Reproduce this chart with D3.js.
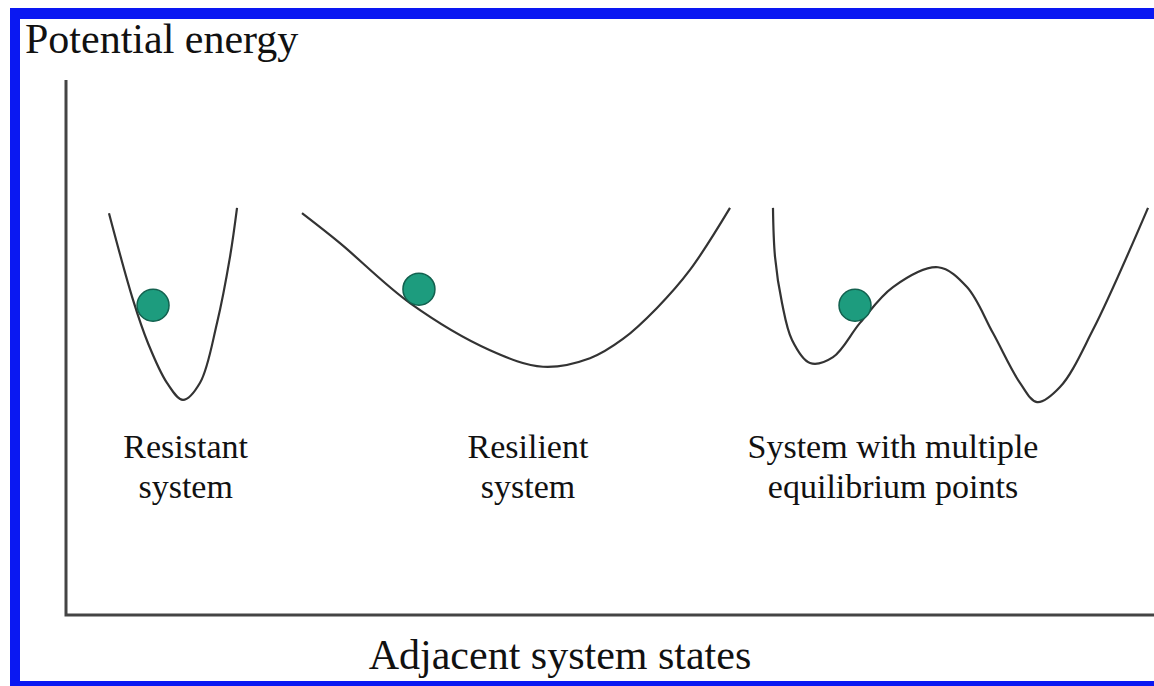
<!DOCTYPE html>
<html>
<head>
<meta charset="utf-8">
<script src="https://cdn.jsdelivr.net/npm/d3@7"></script>
<style>
  html, body { margin: 0; padding: 0; background: #fff; }
  text { font-family: "Liberation Serif", "Times New Roman", serif; fill: #111; }
</style>
</head>
<body>
<div id="chart"></div>
<script>
// landscapes (state 0-100, energy 0-100)
var resistant = [[3.95,75.1],[6.16,58.9],[7.54,50.8],[9.28,43.4],[10.75,40.2],[12.32,43.4],[13.88,54.6],[15.07,66.9],[15.72,76.1]];
var resilient = [[21.69,75.1],[25.18,69.5],[31.62,58.3],[38.97,49.5],[43.84,46.4],[48.16,48.0],[51.19,51.6],[54.32,57.4],[57.35,64.5],[61.03,76.1]];
var multiple = [[64.98,76.1],[65.17,66.9],[65.81,58.3],[66.73,51.4],[68.38,47.1],[70.5,48.2],[72.98,54.6],[76.01,61.3],[80.15,65.0],[82.81,61.3],[85.2,52.7],[87.68,43.4],[89.25,39.8],[91.36,42.6],[94.39,53.3],[99.45,76.1]];

// ball sitting on each curve
var balls = [[8.0,57.9],[32.44,60.9],[72.52,57.9]];

var labels = [["Resistant","system"],["Resilient","system"],["System with multiple","equilibrium points"]];
var labelX = [11.0, 42.46, 76.01];

var yTitle = "Potential energy",
    xTitle = "Adjacent system states";

(function () {
var width = 1154,
    height = 686;

var svg = d3.select("#chart")
  .append("svg")
  .attr("width", width)
  .attr("height", height)

// blue frame
svg.append("rect").attr("x",10).attr("y",8).attr("width",width).attr("height",11).attr("fill","#0a18f2")
svg.append("rect").attr("x",10).attr("y",8).attr("width",10).attr("height",height).attr("fill","#0a18f2")
svg.append("rect").attr("x",10).attr("y",681).attr("width",width).attr("height",6).attr("fill","#0a18f2")

var x = d3.scaleLinear().domain([0,100]).range([66,1154])
var y = d3.scaleLinear().domain([0,100]).range([615,80])

// axes: just two plain lines
svg.append("path")
  .attr("d", "M" + x(0) + "," + y(100) + "V" + y(0) + "H" + x(100))
  .attr("fill","none")
  .attr("stroke","#444")
  .attr("stroke-width",3)

var line = d3.line()
  .x(function(d){ return x(d[0]) })
  .y(function(d){ return y(d[1]) })
  .curve(d3.curveCatmullRom.alpha(0.5))

svg.selectAll(".landscape")
  .data([resistant, resilient, multiple])
  .enter().append("path")
  .attr("class","landscape")
  .attr("d", line)
  .attr("fill","none")
  .attr("stroke","#333")
  .attr("stroke-width",2.2)

svg.selectAll(".ball")
  .data(balls)
  .enter().append("circle")
  .attr("class","ball")
  .attr("cx", function(d){ return x(d[0]) })
  .attr("cy", function(d){ return y(d[1]) })
  .attr("r", 16)
  .attr("fill","#1d9c7e")
  .attr("stroke","#13614f")
  .attr("stroke-width",1.5)

var lab = svg.selectAll(".lab")
  .data(labels)
  .enter().append("text")
  .attr("class","lab")
  .attr("text-anchor","middle")
  .attr("font-size",34)

lab.each(function(d,i){
  d3.select(this).selectAll("tspan")
    .data(d)
    .enter().append("tspan")
    .attr("x", x(labelX[i]))
    .attr("y", function(t,j){ return 458 + j*40 })
    .text(function(t){ return t })
})

svg.append("text")
  .attr("x",25).attr("y",53)
  .attr("font-size",42)
  .text(yTitle)

svg.append("text")
  .attr("x",560).attr("y",669)
  .attr("text-anchor","middle")
  .attr("font-size",42)
  .text(xTitle)
})();
</script>
</body>
</html>
